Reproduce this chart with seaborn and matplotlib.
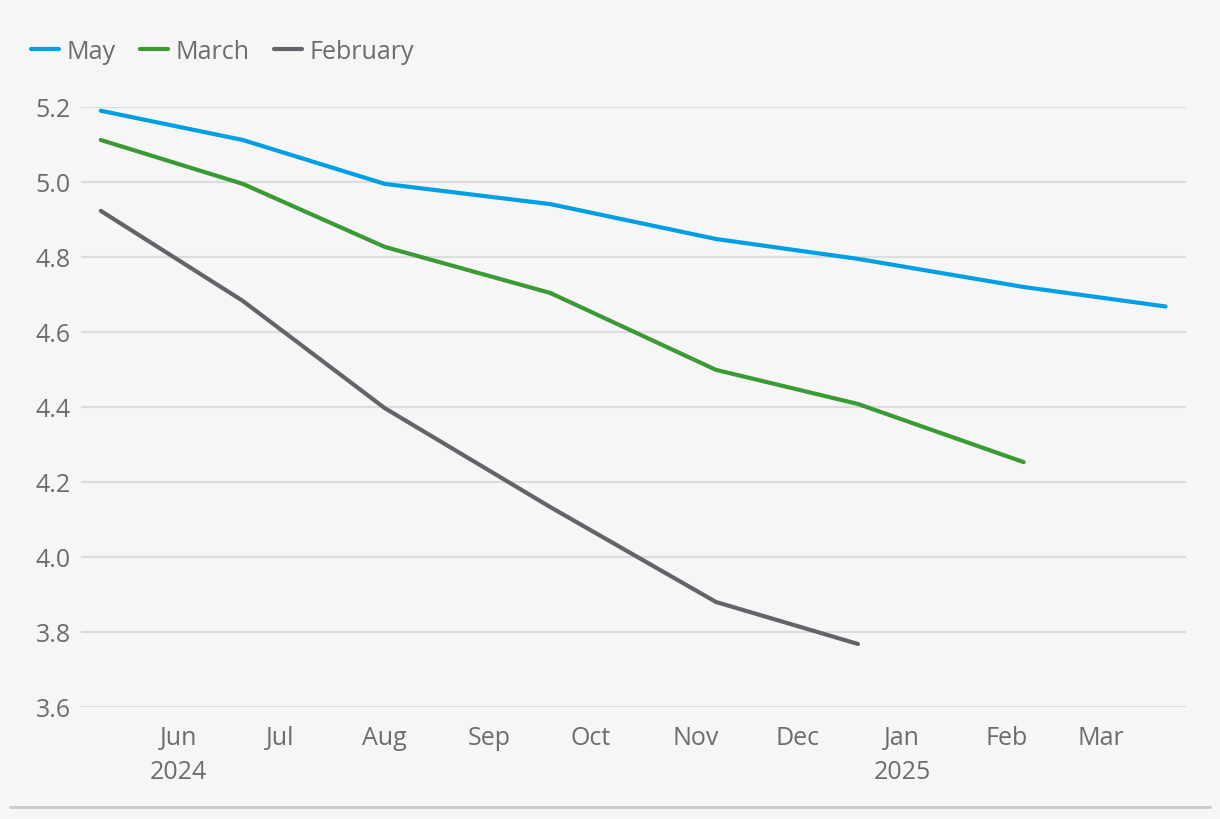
import pandas as pd
import matplotlib.pyplot as plt
import seaborn as sns
from matplotlib.lines import Line2D

# =====================================================
# DATA
# =====================================================

meeting_dates = [
    "2024-05-09", "2024-06-20", "2024-08-01", "2024-09-19",
    "2024-11-07", "2024-12-19", "2025-02-06", "2025-03-20",
]

may_curve = [5.19, 5.112, 4.995, 4.941, 4.848, 4.795, 4.72, 4.668]
march_curve = [5.112, 4.995, 4.827, 4.704, 4.499, 4.408, 4.253]
february_curve = [4.923, 4.683, 4.397, 4.133, 3.88, 3.768]

series_names = ["May", "March", "February"]
series_values = [may_curve, march_curve, february_curve]

colors = {"May": "#009fe3", "March": "#3a9a34", "February": "#626469"}

# =====================================================
# TABLE
# =====================================================

rows = []
for name, values in zip(series_names, series_values):
    for d, v in zip(meeting_dates, values):
        rows.append({"date": pd.Timestamp(d), "rate": v, "series": name})

df = pd.DataFrame(rows)

# =====================================================
# PLOT
# =====================================================

sns.set_style("white")
plt.rcParams["font.family"] = ["Open Sans", "DejaVu Sans"]

bg = "#f6f6f6"
text_color = "#6b6c70"

fig = plt.figure(figsize=(12.2, 8.2), dpi=100, facecolor=bg)
ax = fig.add_axes([0.066, 0.1366, 0.906, 0.7317])
ax.set_facecolor(bg)

sns.lineplot(
    data=df,
    x="date",
    y="rate",
    hue="series",
    hue_order=series_names,
    palette=colors,
    linewidth=3,
    legend=False,
    ax=ax,
)

ax.set_xlim(pd.Timestamp("2024-05-03"), pd.Timestamp("2025-03-26"))
ax.set_ylim(3.6, 5.2)
ax.set_yticks([3.6, 3.8, 4.0, 4.2, 4.4, 4.6, 4.8, 5.0, 5.2])
ax.yaxis.set_major_formatter(plt.FuncFormatter(lambda v, p: f"{v:.1f}"))

month_ticks = pd.date_range("2024-06-01", "2025-03-01", freq="MS")
ax.set_xticks(month_ticks)
labels = []
for m in month_ticks:
    if m.month == 1 or (m.year == 2024 and m.month == 6):
        labels.append(f"{m:%b}\n{m:%Y}")
    else:
        labels.append(f"{m:%b}")
ax.set_xticklabels(labels, linespacing=1.45)

ax.grid(axis="y", color="#dcdcdc", linewidth=1.5)
ax.set_axisbelow(True)
ax.tick_params(axis="both", length=0, labelsize=18, colors=text_color)
ax.tick_params(axis="x", pad=13)
ax.tick_params(axis="y", pad=7)

for spine in ax.spines.values():
    spine.set_visible(False)

ax.set_xlabel("")
ax.set_ylabel("")

handles = [Line2D([0], [0], color=colors[n], linewidth=3) for n in series_names]
leg = fig.legend(
    handles,
    series_names,
    loc="upper left",
    bbox_to_anchor=(0.025, 0.951),
    ncol=3,
    frameon=False,
    fontsize=18,
    borderpad=0,
    borderaxespad=0,
    handlelength=1.15,
    handletextpad=0.3,
    columnspacing=0.95,
)
for t in leg.get_texts():
    t.set_color(text_color)

fig.add_artist(
    Line2D([0.008, 0.992], [0.015, 0.015], color="#c8c8c8", linewidth=2,
           transform=fig.transFigure)
)

plt.savefig("out.png", dpi=100, facecolor=bg)
plt.close()
